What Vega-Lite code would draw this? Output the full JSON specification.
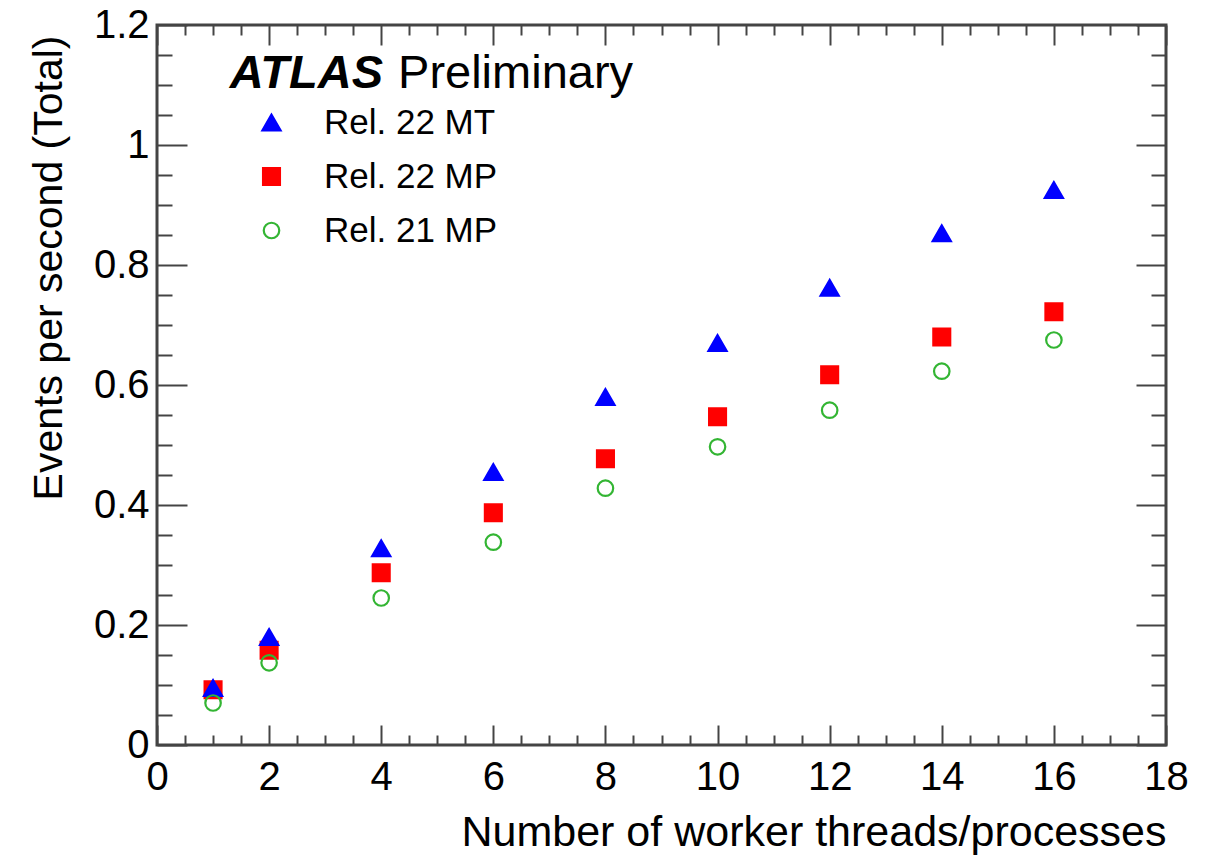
{
  "$schema": "https://vega.github.io/schema/vega-lite/v6.json",
  "width": 1009,
  "height": 720,
  "autosize": "none",
  "padding": {"left": 157, "top": 25, "right": 49, "bottom": 111},
  "background": "white",
  "config": {
    "view": {"stroke": "#444444", "strokeWidth": 3},
    "font": "Liberation Sans",
    "axis": {"grid": false, "domain": false}
  },
  "datasets": {
    "pts": [
      {"n": 1, "series": "Rel. 22 MP", "eps": 0.092},
      {"n": 2, "series": "Rel. 22 MP", "eps": 0.158},
      {"n": 4, "series": "Rel. 22 MP", "eps": 0.287},
      {"n": 6, "series": "Rel. 22 MP", "eps": 0.387},
      {"n": 8, "series": "Rel. 22 MP", "eps": 0.477},
      {"n": 10, "series": "Rel. 22 MP", "eps": 0.547},
      {"n": 12, "series": "Rel. 22 MP", "eps": 0.617},
      {"n": 14, "series": "Rel. 22 MP", "eps": 0.68},
      {"n": 16, "series": "Rel. 22 MP", "eps": 0.722},
      {"n": 1, "series": "Rel. 22 MT", "eps": 0.095},
      {"n": 2, "series": "Rel. 22 MT", "eps": 0.18},
      {"n": 4, "series": "Rel. 22 MT", "eps": 0.328},
      {"n": 6, "series": "Rel. 22 MT", "eps": 0.455},
      {"n": 8, "series": "Rel. 22 MT", "eps": 0.58},
      {"n": 10, "series": "Rel. 22 MT", "eps": 0.67},
      {"n": 12, "series": "Rel. 22 MT", "eps": 0.762},
      {"n": 14, "series": "Rel. 22 MT", "eps": 0.853},
      {"n": 16, "series": "Rel. 22 MT", "eps": 0.925},
      {"n": 1, "series": "Rel. 21 MP", "eps": 0.07},
      {"n": 2, "series": "Rel. 21 MP", "eps": 0.137},
      {"n": 4, "series": "Rel. 21 MP", "eps": 0.245},
      {"n": 6, "series": "Rel. 21 MP", "eps": 0.338},
      {"n": 8, "series": "Rel. 21 MP", "eps": 0.428},
      {"n": 10, "series": "Rel. 21 MP", "eps": 0.497},
      {"n": 12, "series": "Rel. 21 MP", "eps": 0.558},
      {"n": 14, "series": "Rel. 21 MP", "eps": 0.623},
      {"n": 16, "series": "Rel. 21 MP", "eps": 0.675}
    ]
  },
  "data": {"name": "pts"},
  "layer": [
    {
      "mark": {"type": "point", "filled": true, "strokeWidth": 2.2, "opacity": 1},
      "encoding": {
        "x": {
          "field": "n", "type": "quantitative",
          "scale": {"domain": [0, 18], "nice": false, "zero": true},
          "axis": {
            "orient": "bottom", "values": [0, 2, 4, 6, 8, 10, 12, 14, 16, 18],
            "ticks": false, "domain": false, "labelFontSize": 40, "labelPadding": 12,
            "labelColor": "black", "labelFont": "Liberation Sans", "labelFlush": false, "labelOverlap": false,
            "title": "Number of worker threads/processes", "titleFontSize": 43,
            "titleFontWeight": "normal", "titleColor": "black", "titleFont": "Liberation Sans",
            "titleAnchor": "end", "titleAlign": "right", "titleBaseline": "alphabetic",
            "titleX": 1009, "titleY": 100
          }
        },
        "y": {
          "field": "eps", "type": "quantitative",
          "scale": {"domain": [0, 1.2], "nice": false, "zero": true},
          "axis": {
            "orient": "left", "values": [0, 0.2, 0.4, 0.6, 0.8, 1, 1.2], "format": "~g",
            "ticks": false, "domain": false, "labelFontSize": 40, "labelPadding": 8,
            "labelColor": "black", "labelFont": "Liberation Sans", "labelFlush": false, "labelOverlap": false,
            "title": "Events per second (Total)", "titleFontSize": 41,
            "titleFontWeight": "normal", "titleColor": "black", "titleFont": "Liberation Sans",
            "titleAnchor": "end", "titleAlign": "right", "titleBaseline": "alphabetic", "titleAngle": -90,
            "titleX": -96, "titleY": 10
          }
        },
        "shape": {
          "field": "series", "type": "nominal",
          "scale": {"domain": ["Rel. 22 MT", "Rel. 22 MP", "Rel. 21 MP"], "range": ["triangle-up", "square", "circle"]},
          "legend": {"title": null, "orient": "none", "legendX": 97, "legendY": 80, "padding": 0, "labelFontSize": 35, "labelFont": "Liberation Sans", "labelColor": "black", "labelOffset": 35, "labelLimit": 400, "rowPadding": 18, "symbolStrokeWidth": 2.2}
        },
        "fill": {
          "field": "series", "type": "nominal",
          "scale": {"domain": ["Rel. 22 MT", "Rel. 22 MP", "Rel. 21 MP"], "range": ["#0000ff", "#ff0000", "transparent"]},
          "legend": {"title": null, "orient": "none", "legendX": 97, "legendY": 80, "padding": 0, "labelFontSize": 35, "labelFont": "Liberation Sans", "labelColor": "black", "labelOffset": 35, "labelLimit": 400, "rowPadding": 18, "symbolStrokeWidth": 2.2}
        },
        "stroke": {
          "field": "series", "type": "nominal",
          "scale": {"domain": ["Rel. 22 MT", "Rel. 22 MP", "Rel. 21 MP"], "range": ["#0000ff", "#ff0000", "#33b533"]},
          "legend": {"title": null, "orient": "none", "legendX": 97, "legendY": 80, "padding": 0, "labelFontSize": 35, "labelFont": "Liberation Sans", "labelColor": "black", "labelOffset": 35, "labelLimit": 400, "rowPadding": 18, "symbolStrokeWidth": 2.2}
        },
        "size": {
          "field": "series", "type": "nominal",
          "scale": {"domain": ["Rel. 22 MT", "Rel. 22 MP", "Rel. 21 MP"], "range": [330, 240, 340]},
          "legend": {"title": null, "orient": "none", "legendX": 97, "legendY": 80, "padding": 0, "labelFontSize": 35, "labelFont": "Liberation Sans", "labelColor": "black", "labelOffset": 35, "labelLimit": 400, "rowPadding": 18, "symbolStrokeWidth": 2.2}
        }
      }
    },
    {
      "mark": {"type": "point", "opacity": 0},
      "encoding": {
        "x": {
          "field": "n", "type": "quantitative",
          "scale": {"domain": [0, 18], "nice": false},
          "axis": {
            "orient": "bottom", "values": [0, 0.5, 1, 1.5, 2, 2.5, 3, 3.5, 4, 4.5, 5, 5.5, 6, 6.5, 7, 7.5, 8, 8.5, 9, 9.5, 10, 10.5, 11, 11.5, 12, 12.5, 13, 13.5, 14, 14.5, 15, 15.5, 16, 16.5, 17, 17.5, 18],
            "labels": false, "domain": false, "title": null, "ticks": true,
            "tickColor": "#444444", "tickWidth": 2,
            "tickSize": {"condition": {"test": "datum.value % 2 === 0", "value": -20}, "value": -10}
          }
        },
        "y": {
          "field": "eps", "type": "quantitative",
          "scale": {"domain": [0, 1.2], "nice": false},
          "axis": {
            "orient": "left", "values": [0, 0.05, 0.1, 0.15, 0.2, 0.25, 0.3, 0.35, 0.4, 0.45, 0.5, 0.55, 0.6, 0.65, 0.7, 0.75, 0.8, 0.85, 0.9, 0.95, 1, 1.05, 1.1, 1.15, 1.2],
            "labels": false, "domain": false, "title": null, "ticks": true,
            "tickColor": "#444444", "tickWidth": 2,
            "tickSize": {"condition": {"test": "abs(datum.value * 5 - round(datum.value * 5)) < 0.001", "value": -30}, "value": -15}
          }
        }
      }
    },
    {
      "mark": {"type": "point", "opacity": 0},
      "encoding": {
        "x": {
          "field": "n", "type": "quantitative",
          "scale": {"domain": [0, 18], "nice": false},
          "axis": {
            "orient": "top", "values": [0, 0.5, 1, 1.5, 2, 2.5, 3, 3.5, 4, 4.5, 5, 5.5, 6, 6.5, 7, 7.5, 8, 8.5, 9, 9.5, 10, 10.5, 11, 11.5, 12, 12.5, 13, 13.5, 14, 14.5, 15, 15.5, 16, 16.5, 17, 17.5, 18],
            "labels": false, "domain": false, "title": null, "ticks": true,
            "tickColor": "#444444", "tickWidth": 2,
            "tickSize": {"condition": {"test": "datum.value % 2 === 0", "value": -20}, "value": -10}
          }
        },
        "y": {
          "field": "eps", "type": "quantitative",
          "scale": {"domain": [0, 1.2], "nice": false},
          "axis": {
            "orient": "right", "values": [0, 0.05, 0.1, 0.15, 0.2, 0.25, 0.3, 0.35, 0.4, 0.45, 0.5, 0.55, 0.6, 0.65, 0.7, 0.75, 0.8, 0.85, 0.9, 0.95, 1, 1.05, 1.1, 1.15, 1.2],
            "labels": false, "domain": false, "title": null, "ticks": true,
            "tickColor": "#444444", "tickWidth": 2,
            "tickSize": {"condition": {"test": "abs(datum.value * 5 - round(datum.value * 5)) < 0.001", "value": -30}, "value": -15}
          }
        }
      }
    },
    {
      "data": {"values": [{"label": "ATLAS"}]},
      "mark": {"type": "text", "font": "Liberation Sans", "fontSize": 47, "fontStyle": "italic", "fontWeight": "bold", "align": "left", "baseline": "alphabetic", "color": "black"},
      "encoding": {
        "x": {"datum": 1.3, "type": "quantitative", "axis": null},
        "y": {"datum": 1.095, "type": "quantitative", "axis": null},
        "text": {"field": "label"}
      }
    },
    {
      "data": {"values": [{"label": "Preliminary"}]},
      "mark": {"type": "text", "font": "Liberation Sans", "fontSize": 47, "align": "left", "baseline": "alphabetic", "color": "black"},
      "encoding": {
        "x": {"datum": 4.3, "type": "quantitative", "axis": null},
        "y": {"datum": 1.095, "type": "quantitative", "axis": null},
        "text": {"field": "label"}
      }
    }
  ],
  "resolve": {"axis": {"x": "independent", "y": "independent"}}
}
